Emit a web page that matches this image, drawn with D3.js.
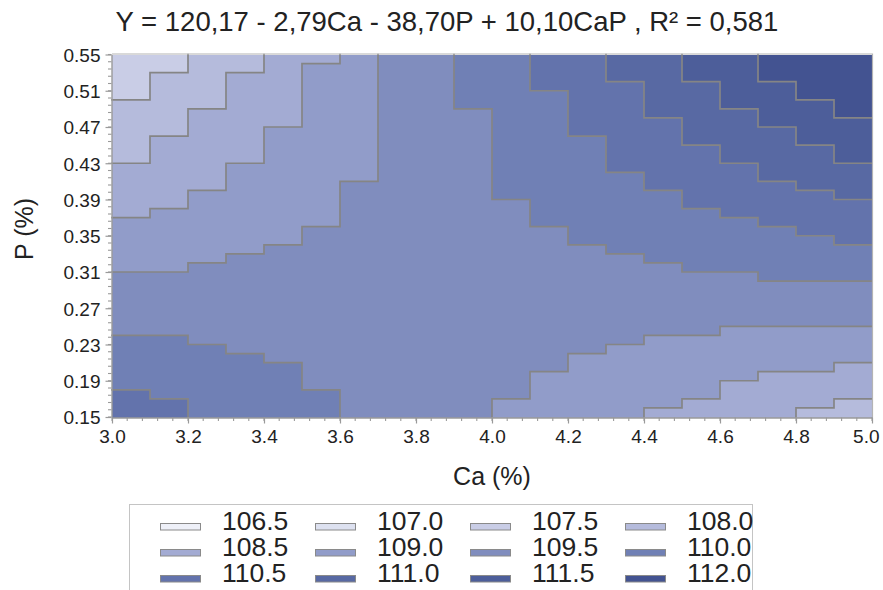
<!DOCTYPE html>
<html>
<head>
<meta charset="utf-8">
<script src="https://cdn.jsdelivr.net/npm/d3@7"></script>
<style>
  body { margin: 0; background: #ffffff; }
  svg text { font-family: "Liberation Sans", Arial, sans-serif; fill: #222222; }
</style>
</head>
<body>
<svg id="chart" width="883" height="590"></svg>
<script>
// Grid columns: lower Ca bound of each column (%)
const caLow = [3.0, 3.1, 3.2, 3.3, 3.4, 3.5, 3.6, 3.7, 3.8, 3.9,
               4.0, 4.1, 4.2, 4.3, 4.4, 4.5, 4.6, 4.7, 4.8, 4.9];
// Grid rows: upper P bound of each row (%), top row first
const pTop = [0.55, 0.54, 0.53, 0.52, 0.51, 0.50, 0.49, 0.48, 0.47, 0.46,
              0.45, 0.44, 0.43, 0.42, 0.41, 0.40, 0.39, 0.38, 0.37, 0.36,
              0.35, 0.34, 0.33, 0.32, 0.31, 0.30, 0.29, 0.28, 0.27, 0.26,
              0.25, 0.24, 0.23, 0.22, 0.21, 0.20, 0.19, 0.18, 0.17, 0.16];
// Response levels shown in the legend
const levels = [106.5, 107.0, 107.5, 108.0, 108.5, 109.0,
                109.5, 110.0, 110.5, 111.0, 111.5, 112.0];
const levelColors = ["#eef0f8", "#dde1f0", "#c9cde6", "#b5bbdc", "#a3abd3", "#919cc9",
                     "#808dbe", "#7080b5", "#6373ac", "#5869a3", "#4d5e9a", "#435391"];
// Level index (hex digit into `levels`) of every cell, one string per P row
const levelGrid = [
  "223344566778899aabbb",
  "223345566778899aabbb",
  "233445566778899aabbb",
  "2334455667788899aabb",
  "2334455667778899aabb",
  "3334455667778899aaab",
  "33444556667788999aab",
  "33444556667788899aaa",
  "334455566677888999aa",
  "344455566677788999aa",
  "3444555666777888999a",
  "3444555666777888999a",
  "44455556667778888999",
  "44455556667777888999",
  "44455566667777888899",
  "44555566667777788889",
  "44555566666777788888",
  "45555566666777778888",
  "55555566666777777888",
  "55555666666677777788",
  "55555666666677777778",
  "55556666666667777777",
  "55566666666666777777",
  "55666666666666677777",
  "66666666666666666777",
  "66666666666666666666",
  "66666666666666666666",
  "66666666666666666666",
  "66666666666666666666",
  "66666666666666666666",
  "66666666666666665555",
  "77666666666666555555",
  "77766666666665555555",
  "77776666666655555555",
  "77777666666655555554",
  "77777666666555555444",
  "77777666666555554444",
  "87777766666555554444",
  "88777766665555544443",
  "88777766665555444433"
];
const caTicks = [3.0, 3.2, 3.4, 3.6, 3.8, 4.0, 4.2, 4.4, 4.6, 4.8, 5.0];
const pTicks = [0.15, 0.19, 0.23, 0.27, 0.31, 0.35, 0.39, 0.43, 0.47, 0.51, 0.55];
const caDomain = [3.0, 5.0];
const pDomain = [0.15, 0.55];
const titleText = "Y = 120,17 - 2,79Ca - 38,70P + 10,10CaP , R\u00b2 = 0,581";
const xTitle = "Ca (%)";
const yTitle = "P (%)";

const svg = d3.select("#chart");
const plot = { left: 112, right: 872, top: 54.5, bottom: 417 };

const x = d3.scaleLinear().domain(caDomain).range([plot.left, plot.right]);
const y = d3.scaleLinear().domain(pDomain).range([plot.bottom, plot.top]);

// cell records built from the grid arrays
const cells = [];
levelGrid.forEach((row, k) => {
  const p1 = pTop[k];
  const p0 = k + 1 < pTop.length ? pTop[k + 1] : pDomain[0];
  caLow.forEach((c0, j) => {
    const c1 = j + 1 < caLow.length ? caLow[j + 1] : caDomain[1];
    cells.push({ k, j, c0, c1, p0, p1, level: parseInt(row[j], 16) });
  });
});

const gCells = svg.append("g");
gCells.selectAll("rect").data(cells).join("rect")
  .attr("x", d => x(d.c0))
  .attr("y", d => y(d.p1))
  .attr("width", d => x(d.c1) - x(d.c0) + 0.5)
  .attr("height", d => y(d.p0) - y(d.p1) + 0.5)
  .attr("fill", d => levelColors[d.level])
  .attr("shape-rendering", "crispEdges");

// boundaries between cells that fall in different levels
const path = d3.path();
cells.forEach(d => {
  if (d.j + 1 < caLow.length && levelGrid[d.k][d.j] !== levelGrid[d.k][d.j + 1]) {
    path.moveTo(x(d.c1), y(d.p1));
    path.lineTo(x(d.c1), y(d.p0));
  }
  if (d.k + 1 < levelGrid.length && levelGrid[d.k][d.j] !== levelGrid[d.k + 1][d.j]) {
    path.moveTo(x(d.c0), y(d.p0));
    path.lineTo(x(d.c1), y(d.p0));
  }
});
svg.append("path")
  .attr("d", path.toString())
  .attr("fill", "none")
  .attr("stroke", "#858585")
  .attr("stroke-width", 1.7)
  .attr("stroke-linecap", "square");

// frame on top and right
svg.append("path")
  .attr("d", `M${plot.left},${plot.top - 0.5}H${plot.right + 0.5}V${plot.bottom}`)
  .attr("fill", "none")
  .attr("stroke", "#b4b4b4")
  .attr("stroke-width", 1.2);

// axes
const axisColor = "#9a9a9a";
const xAxis = svg.append("g").attr("transform", `translate(0,${plot.bottom + 0.5})`)
  .call(d3.axisBottom(x).tickValues(caTicks).tickFormat(d3.format(".1f"))
    .tickSize(6).tickSizeOuter(0).tickPadding(6));
const yAxis = svg.append("g").attr("transform", `translate(${plot.left - 0.5},0)`)
  .call(d3.axisLeft(y).tickValues(pTicks).tickFormat(d3.format(".2f"))
    .tickSize(6).tickSizeOuter(0).tickPadding(5));
[xAxis, yAxis].forEach(g => {
  g.select(".domain").attr("stroke", axisColor).attr("stroke-width", 1.4);
  g.selectAll(".tick line").attr("stroke", axisColor).attr("stroke-width", 1.2);
  g.selectAll(".tick text").attr("font-size", 19).attr("fill", "#222")
    .attr("font-family", "'Liberation Sans', Arial, sans-serif");
});
yAxis.selectAll(".tick text").attr("dy", "0.36em");
// keep the last Ca label inside the page
xAxis.selectAll(".tick text").filter(d => d === caDomain[1])
  .attr("text-anchor", "end").attr("x", 7);

// minor ticks
const xMinor = d3.range(caDomain[0], caDomain[1] + 1e-9, 0.04);
const yMinor = d3.range(pDomain[0], pDomain[1] + 1e-9, 0.008);
svg.append("g").selectAll("line").data(xMinor).join("line")
  .attr("x1", d => x(d)).attr("x2", d => x(d))
  .attr("y1", plot.bottom + 0.5).attr("y2", plot.bottom + 4)
  .attr("stroke", axisColor).attr("stroke-width", 1.1);
svg.append("g").selectAll("line").data(yMinor).join("line")
  .attr("y1", d => y(d)).attr("y2", d => y(d))
  .attr("x1", plot.left - 0.5).attr("x2", plot.left - 4)
  .attr("stroke", axisColor).attr("stroke-width", 1.1);

// titles
svg.append("text").attr("x", 447).attr("y", 31)
  .attr("text-anchor", "middle").attr("font-size", 27.5).text(titleText);
svg.append("text").attr("x", (plot.left + plot.right) / 2).attr("y", 485)
  .attr("text-anchor", "middle").attr("font-size", 25).text(xTitle);
svg.append("text").attr("transform", "translate(33,229) rotate(-90)")
  .attr("text-anchor", "middle").attr("font-size", 25).text(yTitle);

// legend
const legend = svg.append("g");
legend.append("rect")
  .attr("x", 129.5).attr("y", 504.5).attr("width", 623).attr("height", 100)
  .attr("fill", "#ffffff").attr("stroke", "#c4c4c4").attr("stroke-width", 1);
const items = legend.selectAll("g.item").data(levels).join("g").attr("class", "item")
  .attr("transform", (d, i) => `translate(${160 + 155 * (i % 4)},${530 + 26 * Math.floor(i / 4)})`);
items.append("rect")
  .attr("x", 0.5).attr("y", -6.5).attr("width", 40).attr("height", 6.5)
  .attr("fill", (d, i) => levelColors[i])
  .attr("stroke", "#8a8a8a").attr("stroke-width", 1);
items.append("text").attr("x", 62).attr("y", 0).attr("font-size", 26.5)
  .text(d => d3.format(".1f")(d));
</script>
</body>
</html>
